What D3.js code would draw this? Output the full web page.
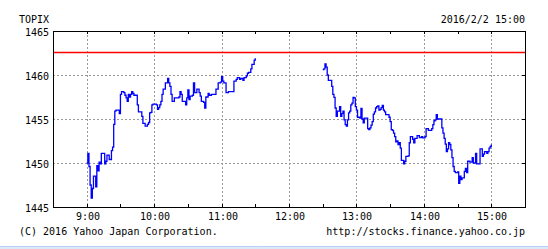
<!DOCTYPE html>
<html>
<head>
<meta charset="utf-8">
<script src="https://cdn.jsdelivr.net/npm/d3@7"></script>
<style>
	html, body { margin: 0; padding: 0; background: #fff; }
	svg text { font-family: "DejaVu Sans Mono", "Liberation Mono", monospace; font-size: 10px; fill: #000; }
</style>
</head>
<body>
<svg id="chart" width="548" height="249"></svg>
<script>
// TOPIX intraday, 2016/2/2
var amTimes = ["9:00","9:01","9:02","9:03","9:04","9:05","9:06","9:07","9:08","9:09","9:10","9:11","9:12","9:13","9:15","9:16","9:17","9:18","9:20","9:21","9:22","9:23","9:24","9:25","9:26","9:28","9:29","9:30","9:31","9:33","9:34","9:35","9:36","9:37","9:38","9:39","9:40","9:41","9:42","9:44","9:45","9:46","9:48","9:49","9:50","9:52","9:54","9:55","9:56","9:57","9:58","9:59","10:01","10:02","10:03","10:04","10:05","10:06","10:07","10:08","10:10","10:11","10:12","10:13","10:14","10:15","10:16","10:17","10:18","10:20","10:22","10:23","10:24","10:25","10:26","10:28","10:29","10:30","10:31","10:32","10:34","10:35","10:36","10:38","10:40","10:41","10:42","10:44","10:45","10:46","10:48","10:49","10:51","10:54","10:55","10:57","10:59","11:00","11:01","11:02","11:04","11:06","11:10","11:11","11:13","11:14","11:16","11:17","11:19","11:20","11:22","11:23","11:24","11:26","11:27","11:29","11:30"];
var amValues = [1450.0,1451.1,1449.6,1447.5,1446.0,1447.1,1448.5,1448.5,1447.3,1449.7,1449.1,1450.1,1449.9,1451.1,1451.1,1449.9,1450.2,1450.9,1450.4,1450.4,1451.4,1451.8,1454.4,1455.9,1456.0,1456.0,1455.6,1457.8,1458.1,1458.0,1457.7,1457.4,1457.0,1457.8,1457.5,1457.8,1458.1,1457.9,1457.7,1457.7,1456.6,1455.8,1455.8,1455.3,1454.5,1454.2,1454.4,1454.6,1455.7,1455.75,1456.6,1456.7,1456.7,1456.6,1456.1,1456.3,1456.6,1457.0,1457.8,1458.4,1459.1,1459.1,1459.6,1459.1,1458.7,1457.8,1457.0,1457.0,1457.4,1457.4,1457.5,1458.1,1457.8,1457.0,1457.0,1456.6,1457.4,1458.3,1457.2,1457.6,1457.7,1459.1,1458.0,1458.4,1458.0,1457.6,1457.0,1456.9,1456.25,1457.5,1457.9,1457.7,1457.8,1457.8,1458.4,1459.1,1459.2,1459.8,1459.3,1459.1,1458.0,1458.1,1458.1,1459.3,1459.5,1459.7,1459.5,1459.6,1459.4,1459.7,1459.9,1460.2,1460.3,1460.7,1461.2,1461.7,1461.9];

var pmTimes = ["12:30","12:31","12:32","12:33","12:34","12:35","12:37","12:38","12:39","12:40","12:41","12:42","12:43","12:45","12:46","12:47","12:48","12:49","12:50","12:51","12:52","12:53","12:54","12:55","12:56","12:57","12:58","12:59","13:00","13:01","13:03","13:04","13:05","13:06","13:07","13:09","13:10","13:11","13:12","13:13","13:14","13:15","13:16","13:17","13:18","13:19","13:20","13:21","13:22","13:23","13:24","13:25","13:26","13:28","13:29","13:30","13:31","13:32","13:33","13:34","13:35","13:36","13:37","13:38","13:39","13:40","13:41","13:42","13:43","13:44","13:46","13:47","13:48","13:50","13:51","13:52","13:54","13:56","13:58","13:59","14:01","14:02","14:04","14:06","14:07","14:08","14:09","14:10","14:11","14:12","14:15","14:16","14:17","14:18","14:19","14:20","14:21","14:22","14:23","14:24","14:25","14:26","14:27","14:28","14:30","14:31","14:32","14:33","14:34","14:36","14:37","14:38","14:39","14:41","14:42","14:43","14:44","14:45","14:46","14:47","14:49","14:50","14:51","14:52","14:53","14:54","14:56","14:57","14:58","14:59","15:00"];
var pmValues = [1460.6,1460.7,1461.25,1460.9,1460.0,1459.4,1459.4,1458.7,1457.8,1457.45,1456.25,1455.3,1455.9,1456.4,1455.3,1455.6,1455.9,1454.9,1454.35,1454.2,1454.9,1455.7,1455.9,1456.6,1456.8,1457.45,1457.4,1456.4,1456.0,1455.2,1455.1,1456.2,1455.0,1454.55,1455.1,1455.1,1453.9,1453.8,1454.0,1454.3,1454.7,1455.55,1455.8,1456.25,1456.4,1456.5,1456.0,1456.1,1456.3,1456.55,1456.0,1455.8,1455.5,1455.5,1455.2,1454.7,1453.8,1453.7,1453.4,1453.0,1452.4,1452.5,1452.1,1452.3,1451.7,1450.3,1450.3,1449.9,1450.2,1450.75,1450.8,1452.3,1453.0,1452.7,1452.3,1452.8,1453.1,1452.9,1453.0,1452.85,1453.0,1453.9,1453.7,1453.7,1453.9,1454.35,1454.8,1454.9,1455.5,1455.0,1455.0,1454.0,1453.4,1452.8,1452.15,1451.3,1451.6,1452.3,1452.1,1451.5,1450.6,1449.6,1449.05,1448.9,1449.0,1447.7,1448.5,1448.1,1448.3,1449.05,1449.4,1448.9,1450.2,1450.1,1450.1,1450.6,1450.0,1450.0,1451.1,1449.9,1449.9,1451.6,1451.6,1450.75,1451.0,1451.3,1451.1,1451.3,1451.7,1451.9,1452.1];

var prevClose = 1462.6;
var yTicks = [1445, 1450, 1455, 1460, 1465];
var yGrid = [1450, 1455, 1460];
var hourTicks = ["9:00","10:00","11:00","12:00","13:00","14:00","15:00"];
var timeRange = ["8:30", "15:30"];

var parseTime = d3.timeParse("%H:%M");
var fmtHour = d3.timeFormat("%-H:%M");

// plot box (window.top is taken, so no bare "top")
var box = { left: 53, right: 525, top: 31, bottom: 207 };

var svg = d3.select("#chart");

var x = d3.scaleTime()
	.domain(timeRange.map(parseTime))
	.range([box.left, box.right]);

var y = d3.scaleLinear()
	.domain([1445, 1465])
	.range([box.bottom, box.top]);

// dotted grid
var grid = svg.append("g")
	.attr("stroke", "#9a9a9a")
	.attr("stroke-dasharray", "2,2")
	.attr("shape-rendering", "crispEdges");

grid.selectAll(".vgrid")
	.data(hourTicks.map(parseTime))
	.enter().append("line")
	.attr("x1", function(d) { return Math.round(x(d)) + 0.5; })
	.attr("x2", function(d) { return Math.round(x(d)) + 0.5; })
	.attr("y1", box.top)
	.attr("y2", box.bottom);

grid.selectAll(".hgrid")
	.data(yGrid)
	.enter().append("line")
	.attr("x1", box.left)
	.attr("x2", box.right)
	.attr("y1", function(d) { return Math.round(y(d)) + 0.5; })
	.attr("y2", function(d) { return Math.round(y(d)) + 0.5; });

// previous close
svg.append("line")
	.attr("x1", box.left)
	.attr("x2", box.right)
	.attr("y1", Math.round(y(prevClose)) + 0.5)
	.attr("y2", Math.round(y(prevClose)) + 0.5)
	.attr("stroke", "#ff0000")
	.attr("stroke-width", 1.4);

// price line, one path per session
var line = d3.line()
	.x(function(d) { return x(d.t); })
	.y(function(d) { return y(d.v); })
	.curve(d3.curveStepAfter);

var sessions = [
	amTimes.map(function(t, i) { return { t: parseTime(t), v: amValues[i] }; }),
	pmTimes.map(function(t, i) { return { t: parseTime(t), v: pmValues[i] }; })
];

svg.selectAll(".session")
	.data(sessions)
	.enter().append("path")
	.attr("class", "session")
	.attr("d", line)
	.attr("fill", "none")
	.attr("stroke", "#0000ff")
	.attr("stroke-width", 1.3);

// frame
svg.append("rect")
	.attr("x", box.left + 0.5)
	.attr("y", box.top + 0.5)
	.attr("width", box.right - box.left)
	.attr("height", box.bottom - box.top)
	.attr("fill", "none")
	.attr("stroke", "#000")
	.attr("shape-rendering", "crispEdges");

// half hour ticks, inward, top and bottom
var halfHours = d3.timeMinute.every(30).range(x.domain()[0], x.domain()[1]).slice(1);
var ticks = svg.append("g").attr("stroke", "#000").attr("shape-rendering", "crispEdges");
halfHours.forEach(function(t) {
	var px = Math.round(x(t)) + 0.5;
	ticks.append("line").attr("x1", px).attr("x2", px).attr("y1", box.top).attr("y2", box.top + 3);
	ticks.append("line").attr("x1", px).attr("x2", px).attr("y1", box.bottom).attr("y2", box.bottom - 3);
});
yGrid.forEach(function(v) {
	var py = Math.round(y(v)) + 0.5;
	ticks.append("line").attr("x1", box.right - 3).attr("x2", box.right).attr("y1", py).attr("y2", py);
});

// labels
svg.selectAll(".ylab")
	.data(yTicks)
	.enter().append("text")
	.attr("x", 49)
	.attr("y", function(d) { return Math.round(y(d)) + 4.5; })
	.attr("text-anchor", "end")
	.text(function(d) { return d; });

svg.selectAll(".xlab")
	.data(hourTicks.map(parseTime))
	.enter().append("text")
	.attr("x", function(d) { return Math.round(x(d)) + 1; })
	.attr("y", 220)
	.attr("text-anchor", "middle")
	.text(fmtHour);

svg.append("text").attr("x", 19).attr("y", 23).text("TOPIX");
svg.append("text").attr("x", 525).attr("y", 23).attr("text-anchor", "end").text("2016/2/2 15:00");
svg.append("text").attr("x", 19).attr("y", 235).text("(C) 2016 Yahoo Japan Corporation.");
svg.append("text").attr("x", 525).attr("y", 235).attr("text-anchor", "end").text("http://stocks.finance.yahoo.co.jp");

// light blue strip at the bottom edge
svg.append("rect").attr("x", 0).attr("y", 246).attr("width", 548).attr("height", 3).attr("fill", "#dbe8fa");
svg.append("line").attr("x1", 0).attr("x2", 548).attr("y1", 246.5).attr("y2", 246.5).attr("stroke", "#b9d0f2");
</script>
</body>
</html>
